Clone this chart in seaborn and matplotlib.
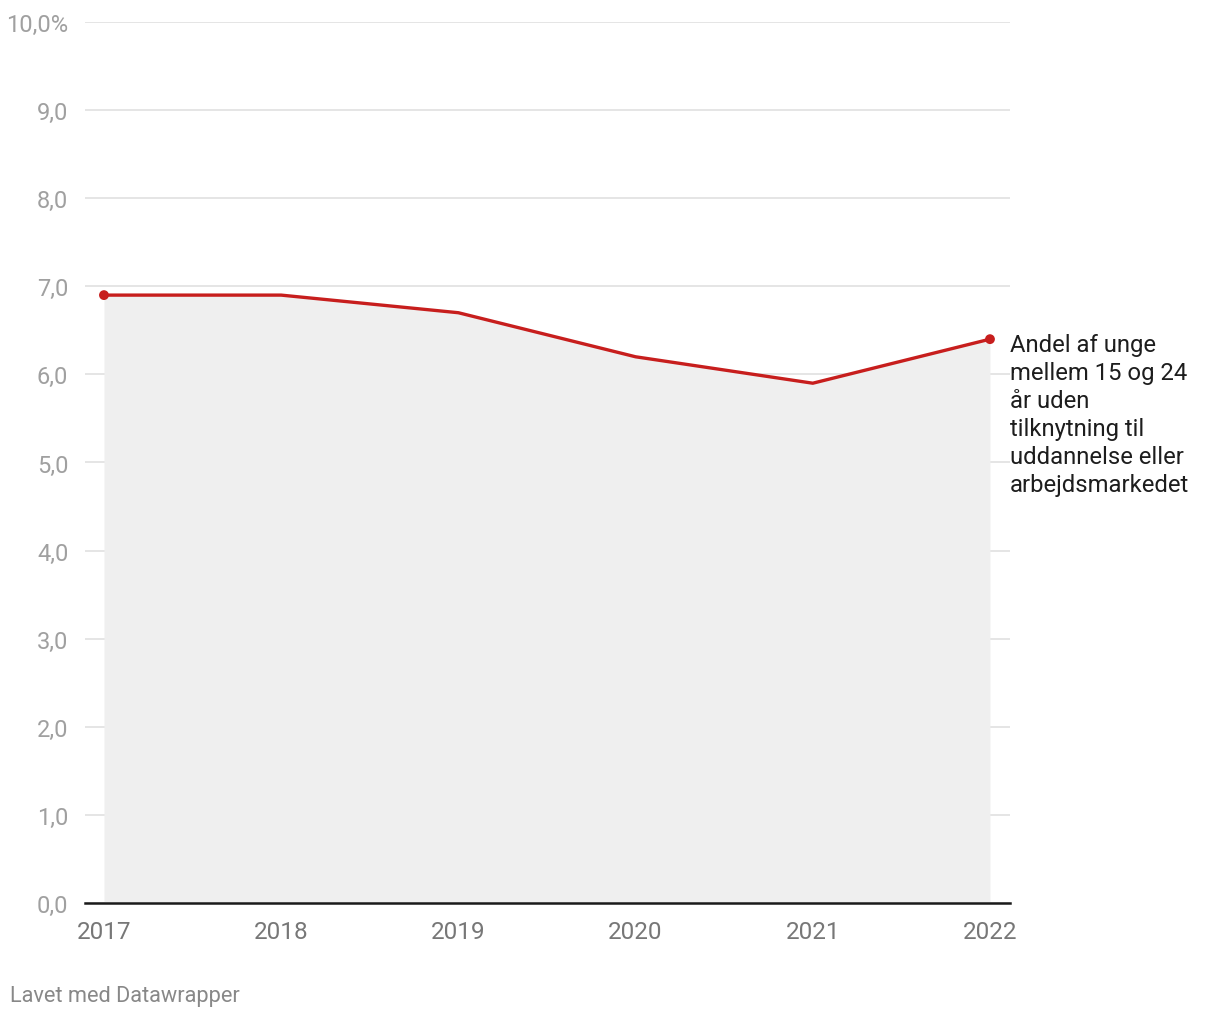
import numpy as np
import pandas as pd
import seaborn as sns
import matplotlib.pyplot as plt

years = [2017, 2018, 2019, 2020, 2021, 2022]
values = [6.9, 6.9, 6.7, 6.2, 5.9, 6.4]
y_ticks = [0, 1, 2, 3, 4, 5, 6, 7, 8, 9, 10]
y_labels = ["0,0", "1,0", "2,0", "3,0", "4,0", "5,0", "6,0", "7,0", "8,0", "9,0", "10,0%"]
label = "Andel af unge\nmellem 15 og 24\når uden\ntilknytning til\nuddannelse eller\narbejdsmarkedet"

red = "#c71e1d"

sns.set_style("white")
plt.rcParams["font.family"] = ["Roboto", "DejaVu Sans"]

df = pd.DataFrame({"year": years, "value": values})

fig = plt.figure(figsize=(12.2, 10.2), dpi=100)
ax = fig.add_axes([85 / 1220, 116 / 1020, 925 / 1220, 881 / 1020])

ax.fill_between(df["year"], 0, df["value"], color="#efefef", linewidth=0, zorder=1)
sns.lineplot(data=df, x="year", y="value", color=red, linewidth=2.4, ax=ax, zorder=3)
ends = df.iloc[[0, -1]]
sns.scatterplot(data=ends, x="year", y="value", color=red, s=50, edgecolor="none", ax=ax, zorder=4)

ax.set_xlim(2016.893, 2022.113)
ax.set_ylim(0, 10)
ax.set_yticks(y_ticks)
ax.set_yticklabels(y_labels)
ax.set_xticks(years)
ax.set_xticklabels([str(y) for y in years])
ax.grid(axis="y", color="#e0e0e0", linewidth=1.2, zorder=0)
ax.set_axisbelow(True)
for s in ["top", "right", "left"]:
    ax.spines[s].set_visible(False)
ax.spines["bottom"].set_color("#1a1a1a")
ax.spines["bottom"].set_linewidth(1.8)
ax.spines["bottom"].set_zorder(5)
ax.tick_params(axis="y", length=0, pad=12, labelsize=17, labelcolor="#a0a0a0")
ax.tick_params(axis="x", length=0, pad=12, labelsize=17.5, labelcolor="#777777")
ax.set_xlabel("")
ax.set_ylabel("")

ax.annotate(label, xy=(years[-1], values[-1]), xytext=(20, 6), textcoords="offset pixels",
            va="top", ha="left", fontsize=17.2, color="#1d1d1d", linespacing=1.28,
            annotation_clip=False)

fig.text(10 / 1220, 1 - 997 / 1020, "Lavet med Datawrapper", fontsize=15.7, color="#888888",
         va="center", ha="left")

fig.savefig("out.png", dpi=100)
